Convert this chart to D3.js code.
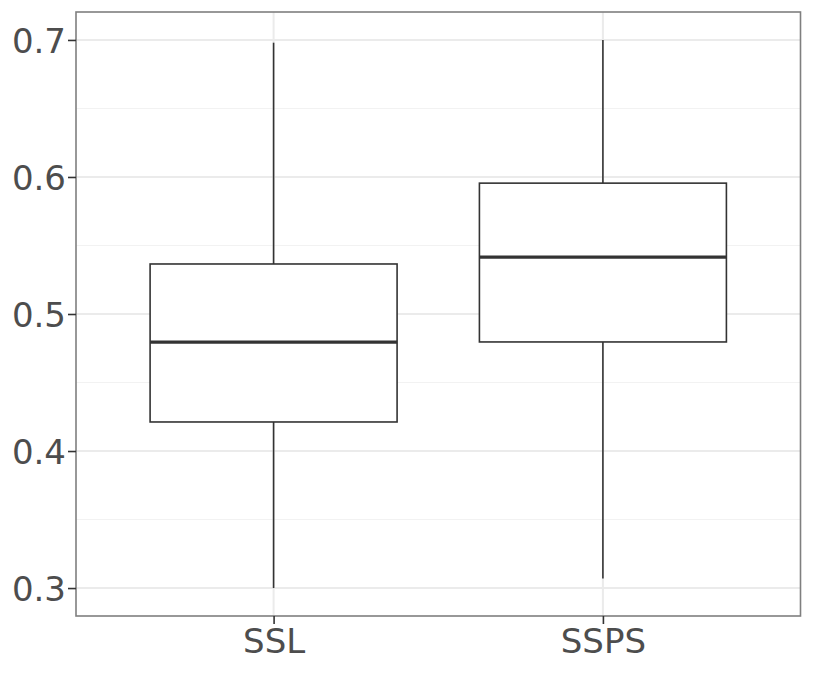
<!DOCTYPE html>
<html><head><meta charset="utf-8">
<script src="https://cdn.jsdelivr.net/npm/d3@7"></script>
<style>body{margin:0;background:#fff}svg{display:block}text{font-family:'DejaVu Sans',sans-serif}</style>
</head><body>
<svg id="c" width="813" height="673"></svg>
<script>
const categories = ["SSL", "SSPS"];
const whiskerLow = [0.300, 0.307];
const q1 = [0.4212, 0.4796];
const median = [0.4795, 0.5415];
const q3 = [0.5365, 0.5955];
const whiskerHigh = [0.698, 0.700];
const yTicks = [0.3, 0.4, 0.5, 0.6, 0.7];
const yMinor = [0.35, 0.45, 0.55, 0.65];

const svg = d3.select("#c");
const L = 76, R = 800.5, T = 12, B = 616;
const y = d3.scaleLinear().domain([0.2796, 0.7204]).range([B, T]);
const x = d3.scaleLinear().domain([0.4, 2.6]).range([L, R]);
const bw = 0.75;

svg.append("rect").attr("x",0).attr("y",0).attr("width",813).attr("height",673).attr("fill","#fff");

const g = svg.append("g");
g.selectAll(".minor").data(yMinor).join("line")
  .attr("x1",L).attr("x2",R).attr("y1",d=>y(d)).attr("y2",d=>y(d))
  .attr("stroke","#F2F2F2").attr("stroke-width",1);
g.selectAll(".major").data(yTicks).join("line")
  .attr("x1",L).attr("x2",R).attr("y1",d=>y(d)).attr("y2",d=>y(d))
  .attr("stroke","#EBEBEB").attr("stroke-width",2);
g.selectAll(".vmajor").data(categories).join("line")
  .attr("x1",(d,i)=>x(i+1)).attr("x2",(d,i)=>x(i+1)).attr("y1",T).attr("y2",B)
  .attr("stroke","#EBEBEB").attr("stroke-width",2);

const data = categories.map((c,i)=>({c,i,lo:whiskerLow[i],q1:q1[i],med:median[i],q3:q3[i],hi:whiskerHigh[i]}));
const bx = g.selectAll(".box").data(data).join("g");
bx.append("line").attr("x1",d=>x(d.i+1)).attr("x2",d=>x(d.i+1))
  .attr("y1",d=>y(d.q3)).attr("y2",d=>y(d.hi)).attr("stroke","#333").attr("stroke-width",1.6);
bx.append("line").attr("x1",d=>x(d.i+1)).attr("x2",d=>x(d.i+1))
  .attr("y1",d=>y(d.q1)).attr("y2",d=>y(d.lo)).attr("stroke","#333").attr("stroke-width",1.6);
bx.append("rect").attr("x",d=>x(d.i+1-bw/2)).attr("width",d=>x(d.i+1+bw/2)-x(d.i+1-bw/2))
  .attr("y",d=>y(d.q3)).attr("height",d=>y(d.q1)-y(d.q3))
  .attr("fill","#fff").attr("stroke","#333").attr("stroke-width",1.6);
bx.append("line").attr("x1",d=>x(d.i+1-bw/2)).attr("x2",d=>x(d.i+1+bw/2))
  .attr("y1",d=>y(d.med)).attr("y2",d=>y(d.med)).attr("stroke","#333").attr("stroke-width",3.2);

svg.append("rect").attr("x",L).attr("y",T).attr("width",R-L).attr("height",B-T)
  .attr("fill","none").attr("stroke","#7F7F7F").attr("stroke-width",1.6);

const yAxis = svg.append("g").attr("transform",`translate(${L},0)`)
  .call(d3.axisLeft(y).tickValues(yTicks).tickFormat(d3.format(".1f")).tickSize(8).tickPadding(2));
const xs = d3.scalePoint().domain(categories).range([x(1), x(2)]);
const xAxis = svg.append("g").attr("transform",`translate(0,${B})`)
  .call(d3.axisBottom(xs).tickSize(8).tickPadding(5));
[yAxis,xAxis].forEach(a=>{
  a.attr("font-family","'DejaVu Sans', sans-serif").attr("font-size",34);
  a.select(".domain").remove();
  a.selectAll(".tick line").attr("stroke","#333").attr("stroke-width",1.6);
  a.selectAll("text").attr("fill","#4D4D4D").attr("font-family","'DejaVu Sans', sans-serif").attr("font-size",34);
});
yAxis.selectAll("text").attr("dy","0.36em");
</script>
</body></html>
